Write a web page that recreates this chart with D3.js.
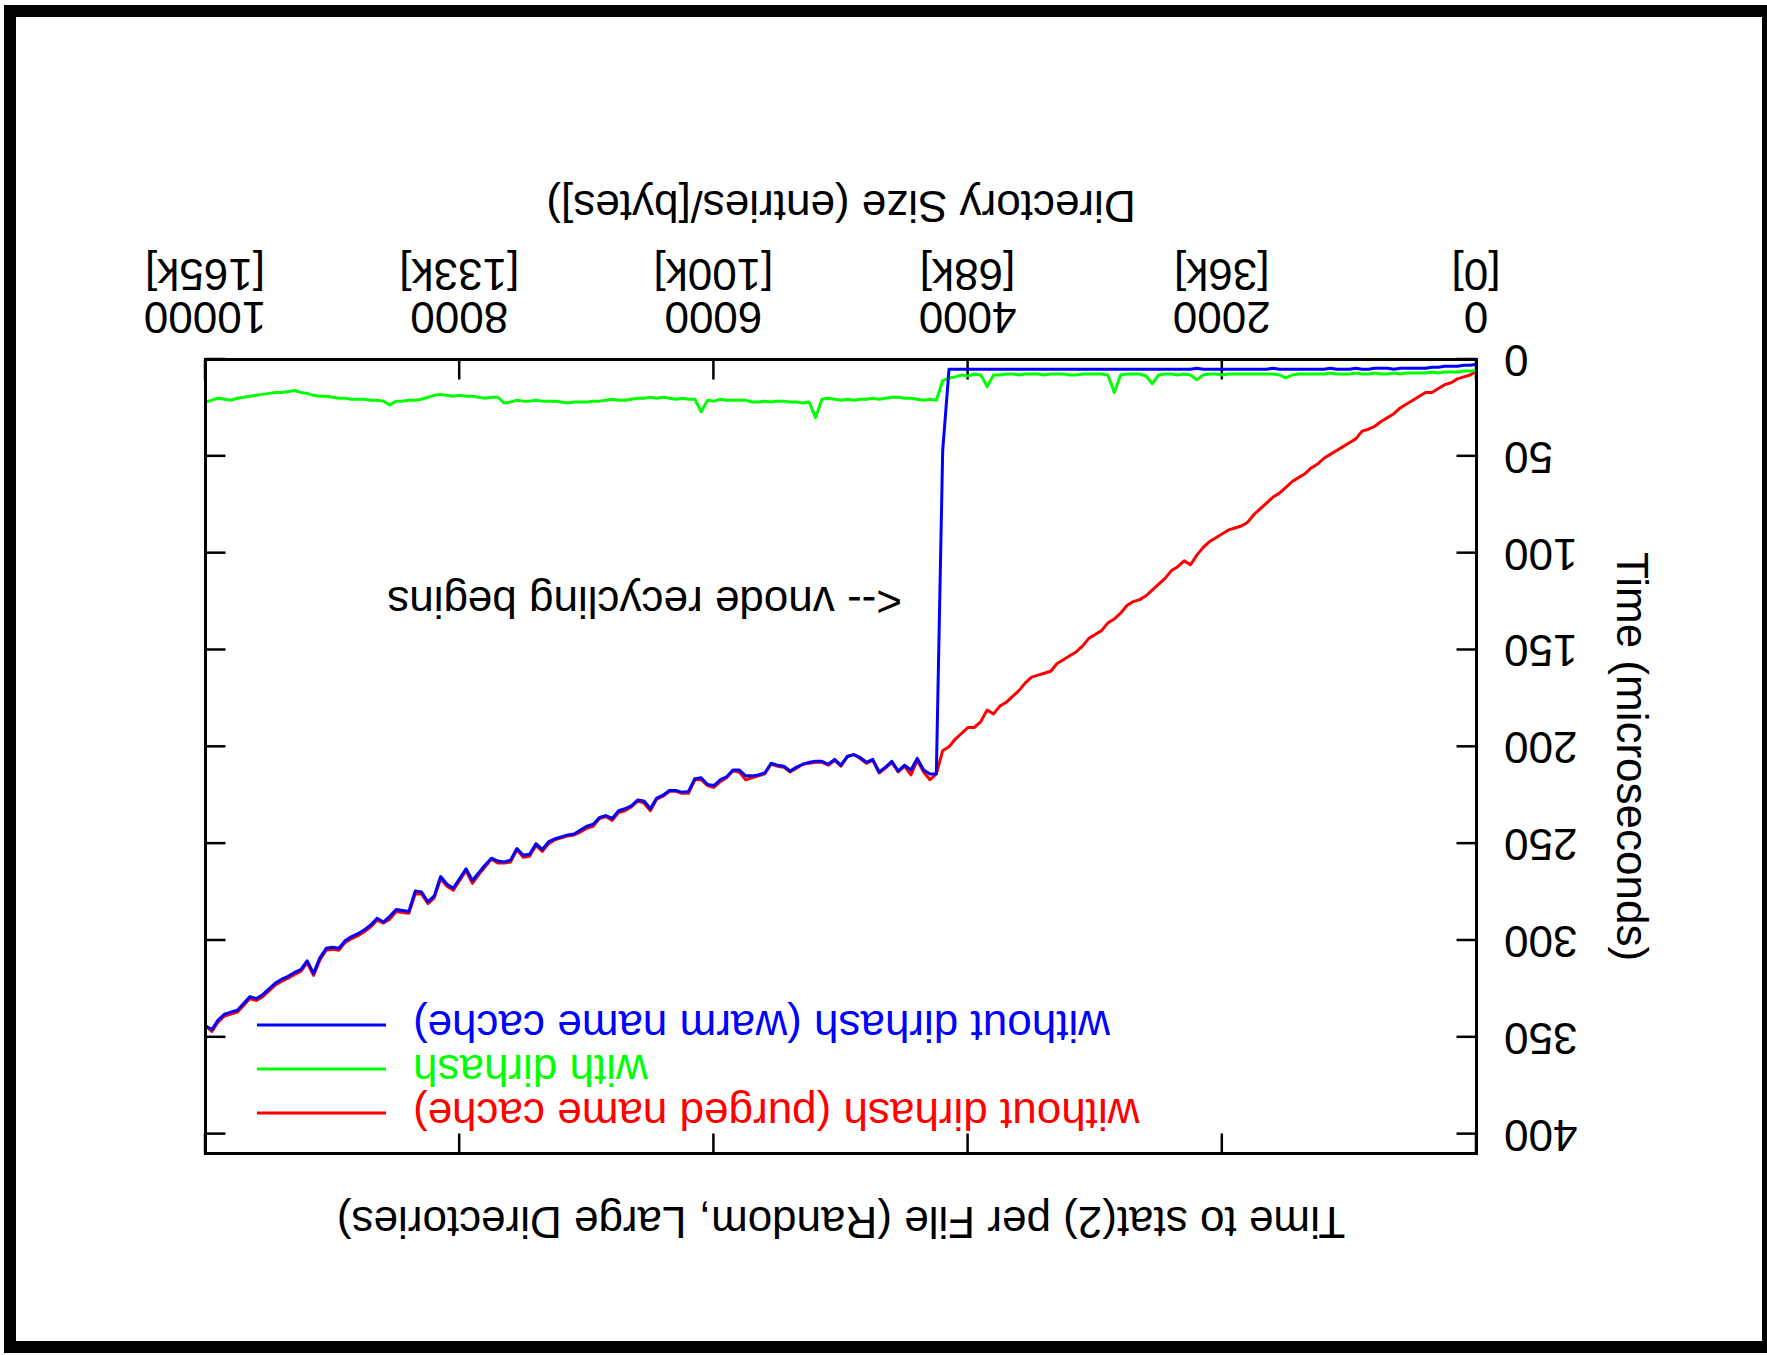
<!DOCTYPE html>
<html>
<head>
<meta charset="utf-8">
<script src="https://cdn.jsdelivr.net/npm/d3@7"></script>
<style>
  body { margin: 0; background: #fff; }
  text { font-family: "Liberation Sans", Arial, Helvetica, sans-serif; }
</style>
</head>
<body>
<div id="chart"></div>
<script>
var canvasWidth = 1767;
var canvasHeight = 1355;

// directory size axis (entries), one sample every 50 entries
var xs = d3.range(0, 10001, 50);
var xTicks = [0, 2000, 4000, 6000, 8000, 10000];
var xTickLabels = ["0", "2000", "4000", "6000", "8000", "10000"];
var xByteLabels = ["[0]", "[36k]", "[68k]", "[100k]", "[133k]", "[165k]"];
var yTicks = [0, 50, 100, 150, 200, 250, 300, 350, 400];
var yMax = 410;

var seriesNames = ["without dirhash (purged name cache)", "with dirhash", "without dirhash (warm name cache)"];
var seriesColors = ["#ff0000", "#00ff00", "#0000ff"];

// time per file in microseconds
var purged = [
    6, 8, 9, 10, 12, 13, 15, 17, 17, 19,
    21, 23, 25, 28, 30, 32, 34.5, 36, 37, 41,
    43, 45, 47, 49, 51, 54, 56, 59, 61, 63,
    66, 69, 71, 74, 77, 80, 84, 86, 87, 88,
    90, 92, 94, 97, 101, 106, 104, 107, 109, 113,
    116, 119, 122, 124, 125, 127, 131, 134, 136, 140,
    142, 144, 148, 151, 153, 155, 157, 161, 162, 163,
    164, 167, 171, 174, 177, 179, 183, 181, 187, 190,
    190, 193, 196, 200, 202, 214, 217, 213, 207, 214.5,
    210, 213, 208, 211, 213.5, 207, 208.5, 206, 204, 205,
    210, 207, 209.5, 208, 208, 208.5, 209, 211, 213, 210.5,
    210, 209, 214, 215, 216, 217, 213, 212.5, 216, 218,
    221, 220, 217, 217, 224, 224, 223, 223, 225.5, 227,
    233, 229, 228, 231, 233, 234, 238, 236, 237, 241,
    242, 244, 245.5, 246, 247, 248, 250, 254, 251, 256.5,
    257, 253, 259.5, 260, 260, 258, 262, 266, 270.5, 264,
    269, 274, 272, 268, 278, 281, 276, 276, 286, 285.5,
    285, 289, 291, 289.5, 293, 295.5, 297.5, 299, 301, 305,
    304.5, 305, 310, 318, 311.5, 316, 317.5, 319.5, 321, 323,
    326, 329, 331, 330, 333.5, 337, 338, 339, 342, 347, 344
];
var dirhash = [
    5.5, 6, 6, 6.5, 6.5, 6.5, 7, 6.5, 7, 7,
    7, 7, 7.5, 7, 7.5, 7.5, 7, 7.5, 7.5, 7,
    7.5, 7.5, 7.5, 7, 7.5, 7.5, 7.5, 7.5, 7.5, 8,
    9.5, 8, 7.5, 7.5, 7.5, 7.5, 7.5, 7.5, 7.5, 7.5,
    8, 7.5, 7.5, 8, 10.5, 8, 7.5, 8, 7.5, 7.5,
    8, 12.5, 8.5, 7.5, 7.5, 7.5, 8, 17, 8, 7.5,
    7.5, 7.5, 7.5, 8, 8, 7.5, 7.5, 7.5, 8, 7.5,
    7.5, 7.5, 8, 7.5, 7.5, 8, 8, 14, 8, 7.5,
    8.5, 8, 9, 9.5, 11, 21, 20.5, 21, 20.5, 20,
    20, 19.5, 19.5, 20, 20.5, 20, 20.5, 20.5, 21, 20.5,
    21, 20.5, 20, 20.5, 30, 22, 22.5, 22, 22, 21.5,
    21.5, 22, 21.5, 22, 22, 21, 21, 21, 21, 20.5,
    21.5, 21, 27, 20.5, 20.5, 20, 20.5, 20, 19.5, 20,
    19.5, 20, 20, 20.5, 21, 21, 20.5, 21, 21.5, 21.5,
    22, 22, 22, 22.5, 22, 21.5, 21.5, 21.5, 21, 21.5,
    21.5, 21, 22, 22.5, 19.5, 19.5, 20, 19.5, 19, 19,
    18.5, 19, 18.5, 18, 18.5, 19.5, 20.5, 21, 21, 21.5,
    21.5, 23.5, 21.5, 21, 21, 20.5, 20.5, 20.5, 20, 20,
    19.5, 19, 19, 18.5, 17.5, 17, 16, 16.5, 17, 17,
    17.5, 18, 18.5, 19, 19.5, 20, 21, 20.5, 20, 21, 22
];
var warm = [
    2.5, 3, 3, 3.5, 3.5, 3.5, 4, 4, 4.5, 4.5,
    4.5, 4.5, 4.5, 5, 4.5, 4.5, 4.5, 5, 5, 4.5,
    5, 5, 5, 4.5, 5, 5, 5, 5, 5, 5,
    5, 5, 4.5, 5, 5, 5, 5, 5, 5, 5,
    5, 5, 5, 5, 4.5, 5, 5, 5, 5, 5,
    5, 5, 5, 5, 5, 5, 5, 5, 5, 5,
    5, 5, 5, 5, 5, 5, 5, 5, 5, 5,
    5, 5, 5, 5, 5, 5, 5, 5, 5, 5,
    5, 5, 5, 5, 47, 214, 214, 212, 206, 212,
    209.5, 212.5, 207.5, 210.5, 213, 206.5, 208, 205.5, 204, 205,
    209.5, 206.5, 209, 207.5, 207.5, 208, 209, 210.5, 212.5, 210,
    209.5, 208.5, 213.5, 214.5, 215, 215, 212, 212, 215.5, 217,
    220, 219.5, 216, 216.5, 223, 223.5, 222.5, 222.5, 225, 226.5,
    232, 228, 227.5, 230.5, 232, 233, 237, 235.5, 236.5, 240,
    241, 243, 245, 245.5, 246.5, 247.5, 249, 253, 250, 255.5,
    256, 252.5, 258.5, 259.5, 259, 257.5, 261, 265, 269, 263,
    268, 273, 271, 267, 277, 280, 275, 274.5, 285, 284.5,
    284, 287.5, 290.5, 288.5, 292, 294.5, 296.5, 298, 300, 304,
    303.5, 304, 309, 317, 310.5, 315, 316.5, 318.5, 320, 322,
    325, 328, 330, 329, 332.5, 336, 337, 338, 341, 346, 344
];
var seriesValues = [purged, dirhash, warm];

var annotText = "<-- vnode recycling begins";
var annotX = 4520, annotY = 117.5;

var margin = {top: 201.5, left: 290.5, right: 205.5, bottom: 359.5};
var width = canvasWidth - margin.left - margin.right;
var height = canvasHeight - margin.top - margin.bottom;
var fontSize = 44;
var tickLen = 20;

var svg = d3.select("#chart").append("svg")
    .attr("width", canvasWidth)
    .attr("height", canvasHeight);

svg.append("rect")
    .attr("width", canvasWidth).attr("height", canvasHeight)
    .attr("fill", "#fff");

// black frame round the page
svg.append("rect")
    .attr("x", 10).attr("y", 11)
    .attr("width", 1758).attr("height", 1336)
    .attr("fill", "none")
    .attr("stroke", "#000")
    .attr("stroke-width", 12);

// the whole figure is upside down
var page = svg.append("g")
    .attr("transform", "rotate(180," + canvasWidth / 2 + "," + canvasHeight / 2 + ")");

var plot = page.append("g")
    .attr("transform", "translate(" + margin.left + "," + margin.top + ")");

var x = d3.scaleLinear().domain([0, 10000]).range([0, width]);
var y = d3.scaleLinear().domain([0, yMax]).range([height, 0]);

function styleAxis(g) {
    g.attr("font-size", fontSize)
        .attr("font-family", '"Liberation Sans", Arial, sans-serif');
    g.select(".domain").remove();
    g.selectAll(".tick line").attr("stroke", "#000").attr("stroke-width", 2.5);
}

//bottom axis with two line labels
var gx = plot.append("g")
    .attr("transform", "translate(0," + height + ")")
    .call(d3.axisBottom(x).tickValues(xTicks).tickSize(-tickLen).tickSizeOuter(0).tickPadding(0))
    .call(styleAxis);
gx.selectAll(".tick text").each(function (d, i) {
    var t = d3.select(this);
    t.text(null).attr("y", 57.5).attr("dy", null);
    t.append("tspan").attr("x", 0).text(xTickLabels[i]);
    t.append("tspan").attr("x", 0).attr("dy", 43).text(xByteLabels[i]);
});

plot.append("g")
    .call(d3.axisTop(x).tickValues(xTicks).tickSize(-tickLen).tickSizeOuter(0).tickFormat(""))
    .call(styleAxis);

plot.append("g")
    .call(d3.axisLeft(y).tickValues(yTicks).tickSize(-tickLen).tickSizeOuter(0).tickPadding(27.5))
    .call(styleAxis);

plot.append("g")
    .attr("transform", "translate(" + width + ",0)")
    .call(d3.axisRight(y).tickValues(yTicks).tickSize(-tickLen).tickSizeOuter(0).tickFormat(""))
    .call(styleAxis);

//series
var line = d3.line()
    .x(function (d, i) { return x(xs[i]); })
    .y(function (d) { return y(d); });

for (var s = 0; s < seriesValues.length; s++) {
    plot.append("path")
        .datum(seriesValues[s])
        .attr("d", line)
        .attr("fill", "none")
        .attr("stroke", seriesColors[s])
        .attr("stroke-width", 3)
        .attr("stroke-linejoin", "round");
}

//legend, top right
var legend = plot.append("g").attr("font-size", fontSize);
for (var s = 0; s < seriesNames.length; s++) {
    var ly = 40.5 + s * 44;
    legend.append("line")
        .attr("x1", 1090.5).attr("x2", 1219.5)
        .attr("y1", ly).attr("y2", ly)
        .attr("stroke", seriesColors[s])
        .attr("stroke-width", 3);
    legend.append("text")
        .attr("x", 1063.5).attr("y", ly)
        .attr("dy", "0.32em")
        .attr("text-anchor", "end")
        .attr("fill", seriesColors[s])
        .text(seriesNames[s]);
}

plot.append("text")
    .attr("x", x(annotX)).attr("y", y(annotY))
    .attr("font-size", fontSize)
    .text(annotText);

plot.append("rect")
    .attr("width", width).attr("height", height)
    .attr("fill", "none")
    .attr("stroke", "#000")
    .attr("stroke-width", 3);

//titles
page.append("text")
    .attr("x", margin.left + width / 2).attr("y", 148)
    .attr("text-anchor", "middle")
    .attr("font-size", fontSize)
    .text("Time to stat(2) per File (Random, Large Directories)");

page.append("text")
    .attr("x", margin.left + width / 2).attr("y", 1164.5)
    .attr("text-anchor", "middle")
    .attr("font-size", fontSize)
    .text("Directory Size (entries/[bytes])");

page.append("text")
    .attr("transform", "translate(150.5," + (margin.top + height / 2) + ") rotate(-90)")
    .attr("text-anchor", "middle")
    .attr("font-size", fontSize)
    .text("Time (microseconds)");
</script>
</body>
</html>
